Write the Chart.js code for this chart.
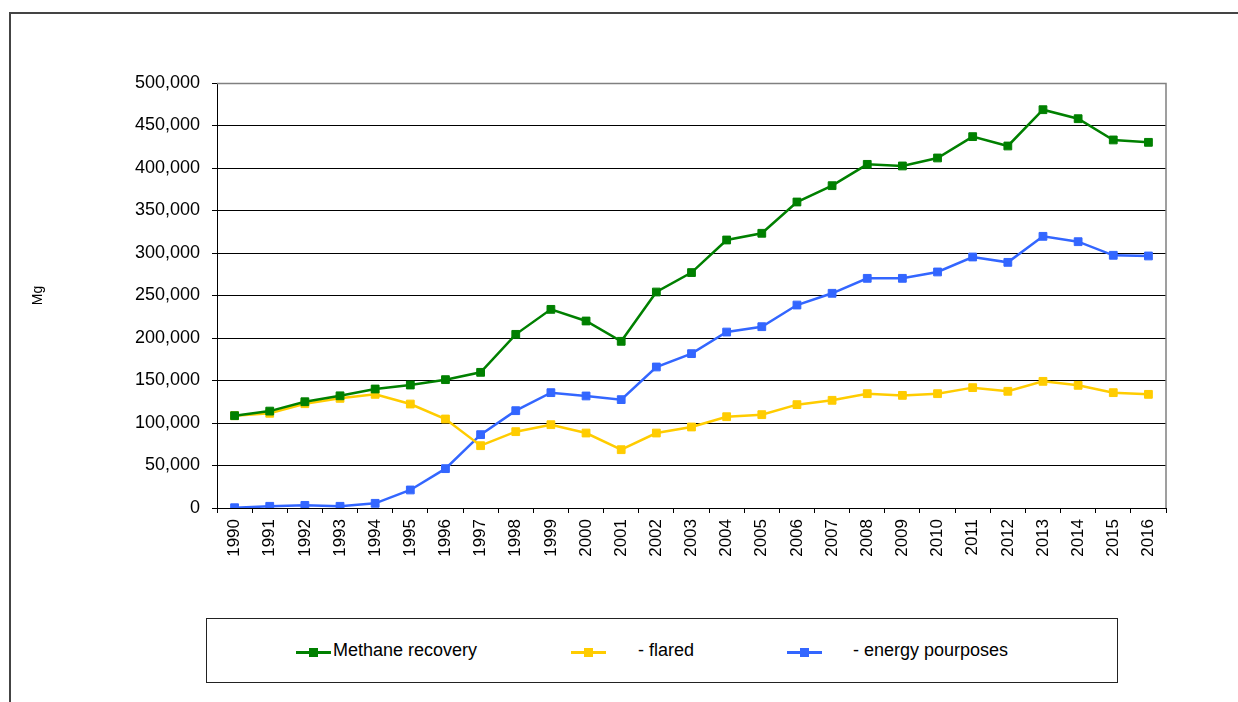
<!DOCTYPE html>
<html>
<head>
<meta charset="utf-8">
<script src="https://cdn.jsdelivr.net/npm/chart.js@4/dist/chart.umd.min.js"></script>
<style>
  html, body { margin: 0; padding: 0; background: #fff; overflow: hidden; }
  body { width: 1238px; height: 702px; position: relative; font-family: "Liberation Sans", Arial, sans-serif; }
  #frame { position: absolute; left: 9px; top: 12px; width: 1260px; height: 720px; border: 2px solid #444; box-sizing: border-box; }
  #wrap { position: absolute; left: 0; top: 0; width: 1238px; height: 702px; }
  #legend { position: absolute; left: 206px; top: 618px; width: 912px; height: 65px; border: 1.5px solid #222; box-sizing: border-box; background: #fff; }
  .sample { position: absolute; top: 32px; width: 35px; height: 2.5px; }
  .mark { position: absolute; top: 29px; width: 9px; height: 9px; }
  .txt { position: absolute; top: 21px; font-size: 18px; color: #000; white-space: nowrap; }
</style>
</head>
<body>
<div id="frame"></div>
<div id="wrap"><canvas id="myChart" width="1238" height="702"></canvas></div>
<div id="legend"></div>
<script>
var years = ['1990', '1991', '1992', '1993', '1994', '1995', '1996', '1997', '1998', '1999',
    '2000', '2001', '2002', '2003', '2004', '2005', '2006', '2007', '2008', '2009',
    '2010', '2011', '2012', '2013', '2014', '2015', '2016'];

var recovery = [108600, 114000, 125000, 132000, 140000, 144700, 151000, 159600, 204300, 233700,
    220000, 196100, 254100, 277000, 315300, 323200, 360000, 379200, 404300, 402400,
    411800, 436900, 425900, 468600, 458000, 433000, 430200];

var flared = [108600, 111400, 122700, 129000, 133700, 122300, 104700, 73300, 89800, 98000,
    88200, 68600, 88200, 95300, 107400, 109800, 121600, 126700, 134500, 132500,
    134500, 141600, 137300, 149000, 144300, 135700, 133700];

var energy = [300, 2000, 3100, 2000, 5500, 21200, 46300, 86300, 114500, 135700,
    131800, 127500, 165900, 181600, 207000, 213300, 238800, 252600, 270200, 270200,
    277700, 295300, 289000, 319600, 313300, 297300, 296500];

var seriesNames = ['Methane recovery', '- flared', '- energy pourposes'];
var seriesColors = ['#008000', '#FFCC00', '#3366FF'];

var fontFamily = '"Liberation Sans", Arial, sans-serif';

function makeDataset(label, values, color) {
    return {
        label: label,
        data: values,
        borderColor: color,
        backgroundColor: color,
        borderWidth: 2.5,
        pointStyle: 'rect',
        pointRadius: 5.5,
        pointHoverRadius: 5.5,
        pointBorderWidth: 1,
        pointBackgroundColor: color,
        pointBorderColor: color,
        tension: 0,
        fill: false
    };
}

// grey frame on top and right of the plot area, like the original
var plotFrame = {
    id: 'plotFrame',
    afterDraw: function(chart) {
        var a = chart.chartArea, ctx = chart.ctx;
        ctx.save();
        ctx.strokeStyle = '#808080';
        ctx.lineWidth = 1.5;
        ctx.beginPath();
        ctx.moveTo(a.left, a.top + 0.5);
        ctx.lineTo(a.right, a.top + 0.5);
        ctx.lineTo(a.right, a.bottom);
        ctx.stroke();
        ctx.restore();
    }
};

var ctx = document.getElementById('myChart').getContext('2d');
var myChart = new Chart(ctx, {
    type: 'line',
    data: {
        labels: years,
        datasets: [
            makeDataset(seriesNames[0], recovery, seriesColors[0]),
            makeDataset(seriesNames[1], flared, seriesColors[1]),
            makeDataset(seriesNames[2], energy, seriesColors[2])
        ]
    },
    options: {
        responsive: false,
        animation: false,
        layout: {
            padding: { left: 30, top: 83, right: 72, bottom: 0 }
        },
        plugins: {
            legend: { display: false },
            tooltip: { enabled: false }
        },
        scales: {
            x: {
                offset: true,
                grid: {
                    offset: true,
                    drawOnChartArea: false,
                    drawTicks: true,
                    tickLength: 5,
                    color: '#000'
                },
                border: { color: '#000', width: 1 },
                ticks: {
                    color: '#000',
                    minRotation: 90,
                    maxRotation: 90,
                    autoSkip: false,
                    padding: 6,
                    font: { family: fontFamily, size: 17 }
                },
                afterFit: function(scale) { scale.height = 194; }
            },
            y: {
                min: 0,
                max: 500000,
                grid: {
                    color: '#000',
                    lineWidth: 1,
                    tickLength: 5
                },
                border: { color: '#000', width: 1 },
                ticks: {
                    stepSize: 50000,
                    color: '#000',
                    padding: 12,
                    font: { family: fontFamily, size: 18 },
                    callback: function(v) { return v.toLocaleString('en-US'); }
                },
                title: {
                    display: true,
                    text: 'Mg',
                    color: '#000',
                    padding: 0,
                    font: { family: fontFamily, size: 14 }
                },
                afterFit: function(scale) { scale.width = 187; }
            }
        }
    },
    plugins: [plotFrame]
});

// legend drawn as html, the same way the original places its entries
var legendSpots = [[89, 126], [364, 431], [580, 646]];
var legendDiv = document.getElementById('legend');
myChart.data.datasets.forEach(function(ds, i) {
    var sx = legendSpots[i][0], tx = legendSpots[i][1];
    var line = document.createElement('div');
    line.className = 'sample';
    line.style.left = sx + 'px';
    line.style.background = ds.borderColor;
    var mark = document.createElement('div');
    mark.className = 'mark';
    mark.style.left = (sx + 13) + 'px';
    mark.style.background = ds.borderColor;
    var txt = document.createElement('div');
    txt.className = 'txt';
    txt.style.left = tx + 'px';
    txt.textContent = ds.label;
    legendDiv.appendChild(line);
    legendDiv.appendChild(mark);
    legendDiv.appendChild(txt);
});
</script>
</body>
</html>
